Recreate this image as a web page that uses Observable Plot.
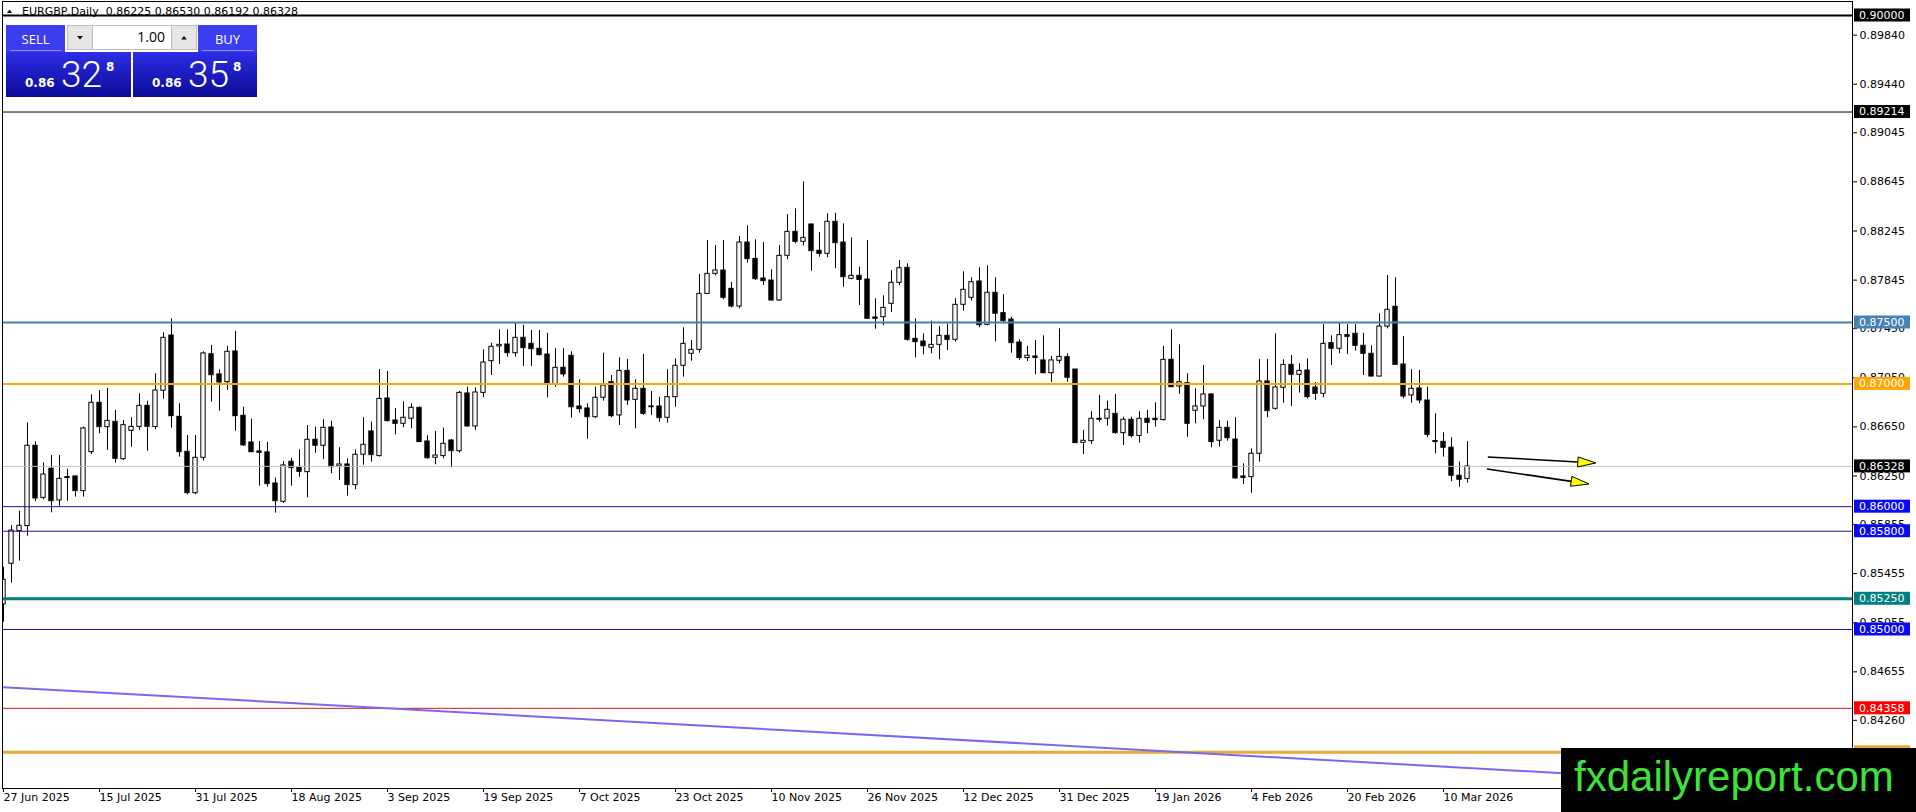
<!DOCTYPE html>
<html>
<head>
<meta charset="utf-8">
<script src="https://cdn.jsdelivr.net/npm/d3@7"></script>
<script src="https://cdn.jsdelivr.net/npm/@observablehq/plot@0.6"></script>
<style>
html,body{margin:0;padding:0;background:#fff;overflow:hidden}
#chart{position:relative;width:1916px;height:812px}
</style>
</head>
<body>
<div id="chart"></div>
<script>
// ---------- data ----------
const symbolTitle = "EURGBP,Daily";
const titleOHLC = ["0.86225", "0.86530", "0.86192", "0.86328"];

const opens = [0.85204,0.85535,0.85801,0.85842,0.86496,0.86072,0.86309,0.86051,0.86241,0.86246,
0.86127,0.86444,0.86846,0.86648,0.86691,0.86387,0.86618,0.86650,0.86821,0.86648,
0.86944,0.87394,0.86732,0.86447,0.86110,0.86398,0.87242,0.87077,0.87014,0.87264,
0.86740,0.86523,0.86450,0.86442,0.86189,0.86040,0.86366,0.86322,0.86281,0.86545,
0.86496,0.86645,0.86328,0.86344,0.86176,0.86423,0.86613,0.86412,0.86881,0.86702,
0.86675,0.86716,0.86805,0.86531,0.86398,0.86412,0.86539,0.86452,0.86922,0.86653,
0.86927,0.87185,0.87305,0.87321,0.87250,0.87375,0.87326,0.87286,0.87239,0.86999,
0.87131,0.87229,0.86816,0.86800,0.86729,0.86887,0.87014,0.86743,0.87106,0.86870,
0.86960,0.86816,0.86816,0.86724,0.86892,0.87147,0.87245,0.87277,0.87733,0.87896,
0.87923,0.87774,0.87630,0.88151,0.88018,0.87858,0.87842,0.87679,0.88043,0.88238,
0.88157,0.88298,0.88084,0.88059,0.88320,0.88151,0.87856,0.87880,0.87850,0.87541,
0.87543,0.87652,0.87823,0.87945,0.87367,0.87345,0.87294,0.87318,0.87391,0.87359,
0.87644,0.87701,0.87834,0.87481,0.87742,0.87576,0.87524,0.87337,0.87210,0.87223,
0.87191,0.87087,0.87188,0.87218,0.87117,0.86520,0.86534,0.86708,0.86716,0.86756,
0.86599,0.86708,0.86575,0.86716,0.86716,0.86705,0.87196,0.86979,0.87006,0.86781,
0.86816,0.86914,0.86537,0.86642,0.86547,0.86246,0.86241,0.86431,0.87020,0.86797,
0.86968,0.87155,0.87074,0.87109,0.86971,0.86919,0.87332,0.87286,0.87397,0.87408,
0.87310,0.87245,0.87060,0.87467,0.87628,0.87158,0.86906,0.86963,0.86865,0.86534,
0.86528,0.86480,0.86252,0.86225];
const highs = [0.85508,0.85847,0.85964,0.86683,0.86528,0.86357,0.86417,0.86417,0.86306,0.86252,
0.86648,0.86911,0.86946,0.86963,0.86784,0.86702,0.86724,0.86919,0.86860,0.87082,
0.87416,0.87530,0.86838,0.86580,0.86580,0.87261,0.87313,0.87115,0.87305,0.87427,
0.86811,0.86713,0.86531,0.86523,0.86233,0.86368,0.86393,0.86463,0.86661,0.86648,
0.86708,0.86697,0.86480,0.86390,0.86463,0.86724,0.86689,0.87117,0.87101,0.86800,
0.86854,0.86838,0.86813,0.86577,0.86613,0.86640,0.86547,0.86938,0.86973,0.86968,
0.87277,0.87332,0.87440,0.87440,0.87495,0.87478,0.87435,0.87435,0.87413,0.87286,
0.87286,0.87261,0.87033,0.86838,0.86973,0.87250,0.87068,0.87212,0.87199,0.87033,
0.87240,0.86938,0.86892,0.87115,0.87204,0.87457,0.87353,0.87891,0.88168,0.88127,
0.88168,0.87826,0.88200,0.88287,0.88173,0.88151,0.87929,0.88127,0.88379,0.88425,
0.88645,0.88303,0.88233,0.88385,0.88390,0.88303,0.88189,0.87951,0.88168,0.87693,
0.87717,0.87923,0.88005,0.87978,0.87530,0.87408,0.87511,0.87467,0.87489,0.87693,
0.87913,0.87864,0.87945,0.87961,0.87864,0.87728,0.87543,0.87359,0.87305,0.87353,
0.87391,0.87223,0.87448,0.87245,0.87117,0.86621,0.86773,0.86906,0.86860,0.86914,
0.86729,0.86729,0.86773,0.86784,0.86846,0.87305,0.87440,0.87318,0.87082,0.86960,
0.87150,0.86919,0.86700,0.86697,0.86724,0.86349,0.86471,0.87199,0.87199,0.87408,
0.87196,0.87231,0.87163,0.87204,0.87011,0.87484,0.87391,0.87495,0.87484,0.87484,
0.87413,0.87310,0.87571,0.87883,0.87864,0.87386,0.87115,0.87109,0.86973,0.86756,
0.86602,0.86561,0.86363,0.86530];
const lows = [0.85060,0.85378,0.85557,0.85760,0.86040,0.86056,0.85950,0.86002,0.86045,0.86078,
0.86078,0.86425,0.86594,0.86458,0.86355,0.86376,0.86485,0.86621,0.86452,0.86626,
0.86876,0.86640,0.86404,0.86097,0.86097,0.86371,0.86851,0.86778,0.86946,0.86615,
0.86490,0.86439,0.86167,0.86159,0.85948,0.86026,0.86167,0.86240,0.86072,0.86436,
0.86382,0.86268,0.86214,0.86086,0.86138,0.86338,0.86363,0.86404,0.86689,0.86585,
0.86642,0.86634,0.86523,0.86387,0.86341,0.86390,0.86317,0.86436,0.86648,0.86621,
0.86887,0.87068,0.87158,0.87218,0.87218,0.87142,0.87142,0.87229,0.86887,0.86973,
0.87055,0.86721,0.86762,0.86550,0.86716,0.86860,0.86724,0.86661,0.86824,0.86634,
0.86743,0.86743,0.86689,0.86680,0.86810,0.87055,0.87185,0.87250,0.87728,0.87880,
0.87685,0.87619,0.87611,0.87983,0.87842,0.87801,0.87674,0.87674,0.88010,0.88140,
0.88124,0.87918,0.88032,0.88027,0.87937,0.87788,0.87847,0.87638,0.87530,0.87446,
0.87473,0.87581,0.87799,0.87348,0.87212,0.87237,0.87245,0.87196,0.87272,0.87340,
0.87592,0.87674,0.87457,0.87473,0.87343,0.87489,0.87250,0.87191,0.87182,0.87074,
0.87082,0.87011,0.87163,0.87014,0.86518,0.86425,0.86507,0.86689,0.86656,0.86588,
0.86498,0.86561,0.86518,0.86594,0.86648,0.86697,0.86973,0.86914,0.86566,0.86675,
0.86707,0.86480,0.86485,0.86534,0.86224,0.86181,0.86110,0.86363,0.86724,0.86784,
0.86843,0.86816,0.86925,0.86878,0.86865,0.86887,0.87150,0.87245,0.87239,0.87267,
0.87068,0.87055,0.87055,0.87448,0.87155,0.86878,0.86843,0.86838,0.86561,0.86431,
0.86404,0.86203,0.86159,0.86192];
const closes = [0.85404,0.85806,0.85844,0.86496,0.86067,0.86262,0.86045,0.86227,0.86233,0.86127,
0.86637,0.86846,0.86648,0.86699,0.86390,0.86664,0.86650,0.86821,0.86650,0.86946,
0.87375,0.86737,0.86444,0.86110,0.86398,0.87248,0.87071,0.87011,0.87261,0.86737,
0.86499,0.86444,0.86439,0.86184,0.86045,0.86336,0.86314,0.86284,0.86545,0.86496,
0.86642,0.86322,0.86344,0.86176,0.86423,0.86504,0.86420,0.86878,0.86697,0.86675,
0.86724,0.86805,0.86526,0.86395,0.86417,0.86512,0.86452,0.86927,0.86653,0.86930,
0.87174,0.87302,0.87318,0.87250,0.87375,0.87291,0.87283,0.87234,0.86999,0.87131,
0.87077,0.86810,0.86794,0.86729,0.86887,0.86987,0.86737,0.87106,0.86865,0.86960,
0.86756,0.86810,0.86721,0.86892,0.87147,0.87326,0.87277,0.87733,0.87896,0.87923,
0.87701,0.87630,0.88151,0.88016,0.87853,0.87837,0.87679,0.88043,0.88238,0.88157,
0.88189,0.88081,0.88059,0.88320,0.88146,0.87869,0.87880,0.87847,0.87530,0.87530,
0.87619,0.87823,0.87942,0.87359,0.87340,0.87307,0.87318,0.87391,0.87359,0.87644,
0.87766,0.87828,0.87478,0.87742,0.87571,0.87511,0.87332,0.87210,0.87229,0.87212,
0.87087,0.87191,0.87220,0.87050,0.86518,0.86537,0.86716,0.86716,0.86789,0.86599,
0.86708,0.86575,0.86716,0.86683,0.86705,0.87196,0.86973,0.87014,0.86675,0.86816,
0.86914,0.86526,0.86642,0.86558,0.86230,0.86235,0.86431,0.87020,0.86778,0.86971,
0.87155,0.87074,0.87106,0.86892,0.86919,0.87326,0.87286,0.87397,0.87383,0.87310,
0.87245,0.87060,0.87467,0.87603,0.87155,0.86897,0.86960,0.86865,0.86585,0.86526,
0.86480,0.86252,0.86219,0.86328];

// bar index of each date label on the time axis
const dateTickIndex = [0,12,24,36,48,60,72,84,96,108,120,132,144,156,168,180];
const dateTickLabels = ["27 Jun 2025","15 Jul 2025","31 Jul 2025","18 Aug 2025","3 Sep 2025",
  "19 Sep 2025","7 Oct 2025","23 Oct 2025","10 Nov 2025","26 Nov 2025","12 Dec 2025",
  "31 Dec 2025","19 Jan 2026","4 Feb 2026","20 Feb 2026","10 Mar 2026"];

const priceTicks = [0.89840,0.89440,0.89045,0.88645,0.88245,0.87845,0.87450,0.87050,
  0.86650,0.86250,0.85855,0.85455,0.85055,0.84655,0.84260,0.83860];

// horizontal levels
const levelValues = [0.90000,0.89214,0.87500,0.87000,0.86328,0.86000,0.85800,0.85250,0.85000,0.84358,0.84000];

// sloping trend line (bar index, price)
const trendIndex = [0, 196];
const trendPrice = [0.84530, 0.83826];

// two drawn arrows (bar index, price)
const arrowFromIndex = [185.6, 185.5];
const arrowFromPrice = [0.86401, 0.86303];
const arrowToIndex = [199.1, 198.25];
const arrowToPrice = [0.86352, 0.86181];

// trade panel
const sellPrice = ["0.86", "32", "8"];
const buyPrice = ["0.86", "35", "8"];
const lotSize = "1.00";
const watermark = "fxdailyreport.com";

// ---------- styles ----------
const levelStyle = [
  {line:"#000000", w:2, box:"#000000"},
  {line:"#000000", w:1, box:"#000000"},
  {line:"#4a7fb0", w:2, box:"#4682b4"},
  {line:"#ffa500", w:2, box:"#ffa500"},
  {line:"#c0c0c0", w:1, box:"#000000"},
  {line:"#1414a8", w:1, box:"#0a0af0"},
  {line:"#1414a8", w:1, box:"#0a0af0"},
  {line:"#008080", w:3, box:"#008080"},
  {line:"#1414a8", w:1, box:"#0a0af0"},
  {line:"#e01010", w:1, box:"#ff0000"},
  {line:"#e8a935", w:3, box:"#e8a935"}
];

// ---------- build ----------
const candles = opens.map((o, i) => ({i, open:o, high:highs[i], low:lows[i], close:closes[i]}));
const up = candles.filter(d => d.close >= d.open);
const down = candles.filter(d => d.close < d.open);
const dateTicks = dateTickIndex.map((i, k) => ({i, label: dateTickLabels[k]}));
const trend = trendIndex.map((i, k) => ({i, p: trendPrice[k]}));
const halfBody = 0.27;

const plot = Plot.plot({
  width: 1916,
  height: 812,
  marginLeft: 2,
  marginRight: 64,
  marginTop: 1,
  marginBottom: 24,
  style: {fontFamily: "DejaVu Sans", fontSize: "11px", color: "black", background: "white", overflow: "visible"},
  x: {type: "linear", domain: [-0.125, 231.125], axis: "bottom", ticks: dateTickIndex, tickFormat: () => "", tickSize: 4, label: null},
  y: {type: "linear", domain: [0.83705, 0.90114], axis: "right", ticks: priceTicks, tickFormat: d => d.toFixed(5), tickSize: 4, tickPadding: 3, label: null},
  marks: [
    Plot.ruleX(candles, {x: "i", y1: "low", y2: "high", stroke: "black", strokeWidth: 1, clip: true}),
    Plot.rect(up, {x1: d => d.i - halfBody, x2: d => d.i + halfBody, y1: "open", y2: "close", fill: "white", stroke: "black", strokeWidth: 1, clip: true}),
    Plot.rect(down, {x1: d => d.i - halfBody, x2: d => d.i + halfBody, y1: "open", y2: "close", fill: "black", stroke: "black", strokeWidth: 1, clip: true}),
    ...levelValues.map((v, k) => Plot.ruleY([v], {stroke: levelStyle[k].line, strokeWidth: levelStyle[k].w})),
    Plot.line(trend, {x: "i", y: "p", stroke: "#7b68ee", strokeWidth: 2}),
    Plot.text(dateTicks, {x: "i", frameAnchor: "bottom", text: "label", textAnchor: "start", dy: 12, dx: 0, fill: "black"}),
    Plot.frame({stroke: "black"})
  ]
});

document.getElementById("chart").appendChild(plot);

const svg = d3.select(plot);
const xs = plot.scale("x"), ys = plot.scale("y");
const fx = v => xs.apply(v), fy = v => ys.apply(v);

// title (behind the other marks)
const tg = svg.insert("g", "g").attr("text-anchor", "start");
tg.append("path").attr("d", "M7,13 L12,13 L9.5,9.5 Z").attr("fill", "black");
tg.append("text").attr("x", 22).attr("y", 15).attr("text-anchor", "start")
  .attr("font-family", "DejaVu Sans").attr("font-size", 11).attr("fill", "black")
  .style("white-space", "pre")
  .text(symbolTitle + "\u00a0\u00a0" + titleOHLC.join(" "));

// arrows
const ag = svg.append("g");
arrowFromIndex.forEach((_, k) => {
  const x0 = fx(arrowFromIndex[k]), y0 = fy(arrowFromPrice[k]);
  const x1 = fx(arrowToIndex[k]), y1 = fy(arrowToPrice[k]);
  const dx = x1 - x0, dy = y1 - y0, len = Math.hypot(dx, dy);
  const ux = dx / len, uy = dy / len, px = -uy, py = ux;
  const hl = 18, hw = 5;
  const bx = x1 - ux * hl, by = y1 - uy * hl;
  ag.append("line").attr("x1", x0).attr("y1", y0).attr("x2", bx).attr("y2", by)
    .attr("stroke", "black").attr("stroke-width", 1.6);
  ag.append("path")
    .attr("d", `M${x1},${y1} L${bx + px * hw},${by + py * hw} L${bx - px * hw},${by - py * hw} Z`)
    .attr("fill", "#ffff00").attr("stroke", "black").attr("stroke-width", 1);
});

// level labels on the price axis
const lg = svg.append("g").attr("font-family", "DejaVu Sans").attr("font-size", 11).attr("text-anchor", "start");
levelValues.forEach((v, k) => {
  const y = fy(v);
  lg.append("rect").attr("x", 1854).attr("y", y - 6.5).attr("width", 56).attr("height", 13).attr("fill", levelStyle[k].box);
  lg.append("text").attr("x", 1859).attr("y", y).attr("dy", "0.36em").attr("text-anchor", "start").attr("fill", "white").text(v.toFixed(5));
});

// trade panel
const defs = svg.append("defs");
const gr = defs.append("linearGradient").attr("id", "pg").attr("x1", 0).attr("y1", 0).attr("x2", 0).attr("y2", 1);
gr.append("stop").attr("offset", "0%").attr("stop-color", "#2d2de6");
gr.append("stop").attr("offset", "100%").attr("stop-color", "#0b0b98");
const pg = svg.append("g").attr("text-anchor", "start");
[[6, "SELL"], [198, "BUY"]].forEach(([x, t]) => {
  pg.append("rect").attr("x", x).attr("y", 25).attr("width", 59).attr("height", 27).attr("fill", "#3d3df0");
  pg.append("line").attr("x1", x + 4).attr("x2", x + 55).attr("y1", 50.5).attr("y2", 50.5).attr("stroke", "#8a8aff");
  pg.append("text").attr("x", x + 29.5).attr("y", 39).attr("dy", "0.35em").attr("text-anchor", "middle")
    .attr("font-family", "Open Sans").attr("font-size", 13).attr("fill", "white").text(t);
});
pg.append("rect").attr("x", 67.5).attr("y", 25.5).attr("width", 129).attr("height", 24).attr("fill", "white").attr("stroke", "#bdbdbd");
pg.append("rect").attr("x", 67.5).attr("y", 25.5).attr("width", 25).attr("height", 24).attr("fill", "#e6e6e6").attr("stroke", "#bdbdbd");
pg.append("rect").attr("x", 171.5).attr("y", 25.5).attr("width", 25).attr("height", 24).attr("fill", "#e6e6e6").attr("stroke", "#bdbdbd");
pg.append("path").attr("d", "M77,36 L83,36 L80,39.5 Z").attr("fill", "#111");
pg.append("path").attr("d", "M181,39.5 L187,39.5 L184,36 Z").attr("fill", "#111");
pg.append("text").attr("x", 165).attr("y", 42).attr("text-anchor", "end")
  .attr("font-family", "Open Sans").attr("font-size", 14).attr("fill", "black").text(lotSize);
[[6, 125, sellPrice], [133, 124, buyPrice]].forEach(([x, w, p]) => {
  pg.append("rect").attr("x", x).attr("y", 52).attr("width", w).attr("height", 45).attr("fill", "url(#pg)");
  pg.append("text").attr("x", x + 19).attr("y", 87).attr("text-anchor", "start").attr("font-family", "DejaVu Sans").attr("font-weight", "bold")
    .attr("font-size", 12).attr("fill", "white").text(p[0]);
  pg.append("text").attr("x", x + 55).attr("y", 87).attr("text-anchor", "start").attr("font-family", "Roboto").attr("font-weight", 300)
    .attr("font-size", 37).attr("fill", "white").text(p[1]);
  pg.append("text").attr("x", x + 100).attr("y", 71).attr("text-anchor", "start").attr("font-family", "DejaVu Sans").attr("font-weight", "bold")
    .attr("font-size", 12).attr("fill", "white").text(p[2]);
});

// watermark
const wg = svg.append("g").attr("text-anchor", "start");
wg.append("rect").attr("x", 1561).attr("y", 748).attr("width", 355).attr("height", 64).attr("fill", "black");
wg.append("text").attr("x", 1574).attr("y", 791).attr("text-anchor", "start").attr("font-family", "Liberation Sans").attr("font-size", 42)
  .attr("fill", "#3fe23a").text(watermark);
</script>
</body>
</html>
